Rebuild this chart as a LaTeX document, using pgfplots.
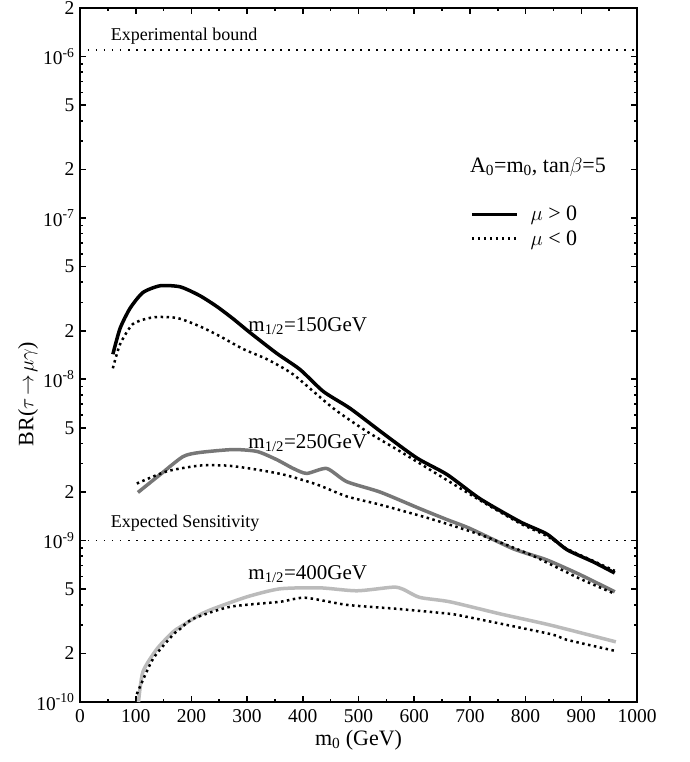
\documentclass[border=0pt]{standalone}
\usepackage{fontspec}
\setmainfont{Liberation Serif}
\usepackage{pgfplots}
\pgfplotsset{compat=1.18}
\usepackage{pgfplotstable}

% m_{1/2}=150 GeV
\pgfplotstableread{
m0   br
59   1.43e-8
72   2.07e-8
90   2.76e-8
113  3.45e-8
144  3.8e-8
180  3.74e-8
215  3.3e-8
246  2.82e-8
275  2.37e-8
305  1.95e-8
353  1.45e-8
395  1.15e-8
437  8.4e-9
485  6.6e-9
545  4.6e-9
605  3.25e-9
659  2.57e-9
718  1.82e-9
790  1.31e-9
838  1.10e-9
874  8.8e-10
921  7.4e-10
960  6.3e-10
}\apos
\pgfplotstableread{
m0   br
59   1.17e-8
72   1.65e-8
95   2.2e-8
131  2.42e-8
174  2.4e-8
215  2.13e-8
251  1.85e-8
293  1.54e-8
336  1.33e-8
383  1.07e-8
455  6.6e-9
515  4.75e-9
575  3.57e-9
640  2.6e-9
718  1.78e-9
790  1.28e-9
838  1.07e-9
874  8.9e-10
921  7.5e-10
960  6.5e-10
}\aneg
% m_{1/2}=250 GeV
\pgfplotstableread{
m0   br
104  1.99e-9
144  2.57e-9
185  3.32e-9
215  3.52e-9
275  3.67e-9
318  3.57e-9
353  3.18e-9
383  2.8e-9
407  2.61e-9
443  2.8e-9
479  2.32e-9
539  2.0e-9
610  1.58e-9
659  1.35e-9
700  1.19e-9
778  8.9e-10
838  7.6e-10
898  6.15e-10
960  4.82e-10
}\bpos
\pgfplotstableread{
m0   br
102  2.26e-9
156  2.69e-9
215  2.92e-9
263  2.92e-9
305  2.8e-9
365  2.57e-9
425  2.23e-9
479  1.88e-9
539  1.67e-9
628  1.37e-9
718  1.09e-9
808  8.2e-10
898  5.8e-10
960  4.69e-10
}\bneg
% m_{1/2}=400 GeV
\pgfplotstableread{
m0   br
105  1.0e-10
113  1.54e-10
138  2.13e-10
167  2.72e-10
180  2.92e-10
215  3.47e-10
239  3.78e-10
300  4.49e-10
359  5.03e-10
431  5.1e-10
497  4.89e-10
562  5.15e-10
580  5.0e-10
610  4.45e-10
664  4.18e-10
754  3.52e-10
844  3.0e-10
962  2.36e-10
}\cpos
\pgfplotstableread{
m0   br
102  1.12e-10
131  1.85e-10
167  2.61e-10
180  2.84e-10
203  3.28e-10
269  3.89e-10
359  4.18e-10
404  4.43e-10
479  4.0e-10
569  3.78e-10
664  3.52e-10
695  3.37e-10
844  2.64e-10
874  2.43e-10
962  2.07e-10
}\cneg

\definecolor{midgray}{HTML}{777777}
\definecolor{lightgray}{HTML}{BBBBBB}

\begin{document}
\begin{tikzpicture}
\begin{axis}[
    width=557pt, height=694pt, scale only axis,
    xmin=0, xmax=1000,
    ymode=log, ymin=1e-10, ymax=2e-6,
    axis line style={line width=2pt},
    every tick/.style={black, line width=1.6pt},
    major tick length=6pt, minor tick length=3.5pt,
    tick align=inside,
    xtick={0,100,200,300,400,500,600,700,800,900,1000},
    xticklabels={0,100,200,300,400,500,600,700,800,900,1000},
    minor xtick={50,150,250,350,450,550,650,750,850,950},
    ytick={1e-10,2e-10,5e-10,1e-9,2e-9,5e-9,1e-8,2e-8,5e-8,1e-7,2e-7,5e-7,1e-6,2e-6},
    yticklabels={10\textsuperscript{-10},2,5,10\textsuperscript{-9},2,5,10\textsuperscript{-8},2,5,10\textsuperscript{-7},2,5,10\textsuperscript{-6},2},
    minor ytick={3e-10,4e-10,6e-10,7e-10,8e-10,9e-10,3e-9,4e-9,6e-9,7e-9,8e-9,9e-9,3e-8,4e-8,6e-8,7e-8,8e-8,9e-8,3e-7,4e-7,6e-7,7e-7,8e-7,9e-7},
    tick label style={font=\fontsize{19.5}{21}\selectfont},
    xticklabel style={yshift=-4pt},
    yticklabel style={xshift=-2pt},
    xlabel={m\textsubscript{0} (GeV)},
    xlabel style={font=\fontsize{22}{24}\selectfont, at={(axis description cs:0.5,-0.055)}, anchor=center},
    ylabel={BR($\tau\!\rightarrow\!\mu\gamma$)},
    ylabel style={font=\fontsize{22}{24}\selectfont, at={(axis description cs:-0.093,0.444)}, anchor=center},
    legend image code/.code={\draw[#1] (0pt,0pt) -- (45pt,0pt);},
    legend style={at={(axis description cs:0.700,0.716)}, anchor=north west,
        draw=none, fill=none, inner sep=0pt, row sep=6pt,
        nodes={font=\fontsize{22}{24}\selectfont, inner sep=1pt, anchor=west}},
    legend cell align=left,
]
% bounds
\addplot[forget plot, black, line width=1.5pt, dash pattern=on 1.5pt off 6.5pt]
    coordinates {(0,1.1e-6) (1000,1.1e-6)};
\addplot[forget plot, black, line width=1.5pt, dash pattern=on 1.5pt off 6.5pt]
    coordinates {(0,1e-9) (1000,1e-9)};

\addplot[black, line width=3.5pt, smooth, tension=0.4] table[x=m0,y=br] {\apos};
\addlegendentry{\,\,\,$\mu$ > 0}
\addplot[black, line width=2.5pt, dash pattern=on 2.5pt off 3.5pt, smooth, tension=0.4] table[x=m0,y=br] {\aneg};
\addlegendentry{\,\,\,$\mu$ < 0}
\addplot[forget plot, midgray, line width=3.5pt, smooth, tension=0.4] table[x=m0,y=br] {\bpos};
\addplot[forget plot, black, line width=2.5pt, dash pattern=on 2.5pt off 3.5pt, smooth, tension=0.4] table[x=m0,y=br] {\bneg};
\addplot[forget plot, lightgray, line width=3.5pt, smooth, tension=0.4] table[x=m0,y=br] {\cpos};
\addplot[forget plot, black, line width=2.5pt, dash pattern=on 2.5pt off 3.5pt, smooth, tension=0.4] table[x=m0,y=br] {\cneg};

\node[anchor=west, font=\fontsize{18}{20}\selectfont, inner sep=0pt] at (axis cs:55,1.33e-6) {Experimental bound};
\node[anchor=west, font=\fontsize{18}{20}\selectfont, inner sep=0pt] at (axis cs:55,1.29e-9) {Expected Sensitivity};
\node[anchor=west, font=\fontsize{21}{23}\selectfont, inner sep=0pt] at (axis cs:302,2.13e-8) {m\textsubscript{1/2}=150GeV};
\node[anchor=west, font=\fontsize{21}{23}\selectfont, inner sep=0pt] at (axis cs:302,4.0e-9) {m\textsubscript{1/2}=250GeV};
\node[anchor=west, font=\fontsize{21}{23}\selectfont, inner sep=0pt] at (axis cs:302,6.24e-10) {m\textsubscript{1/2}=400GeV};
\node[anchor=west, font=\fontsize{22}{24}\selectfont, inner sep=0pt] at (axis description cs:0.700,0.771) {A\textsubscript{0}=m\textsubscript{0}, tan$\beta$=5};
\end{axis}
\pgfresetboundingbox
\path (-80pt,-60pt) rectangle (609pt,702pt);
\end{tikzpicture}
\end{document}
